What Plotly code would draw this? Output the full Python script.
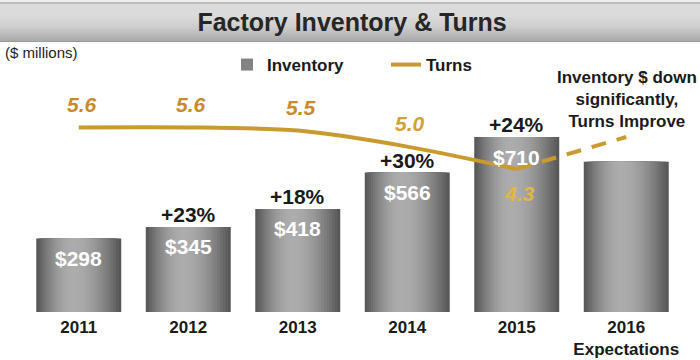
import numpy as np
import plotly.graph_objects as go

# ---------------- data ----------------
years = ["2011", "2012", "2013", "2014", "2015", "2016"]
tick_labels = ["2011", "2012", "2013", "2014", "2015", "2016<br>Expectations"]
inventory = [298, 345, 418, 566, 710, 610]
inventory_labels = ["$298", "$345", "$418", "$566", "$710", ""]
growth_labels = ["", "+23%", "+18%", "+30%", "+24%", ""]

turns_years = ["2011", "2012", "2013", "2014", "2015"]
turns = [5.6, 5.6, 5.5, 5.0, 4.3]
turns_labels = ["5.6", "5.6", "5.5", "5.0", "4.3"]
turns_label_colors = ["#C98A2C", "#C98A2C", "#C98A2C", "#D3A034", "#E2B646"]

turns_proj_years = ["2015", "2016"]
turns_proj = [4.3, 5.3]

FONT = "Arial, Liberation Sans, sans-serif"
LINE_COLOR = "#C99A30"

fig = go.Figure()

# ---------------- bars (layered to fake a cylinder gradient) ----------------
N = 18
half = 0.388
peak_pos = -0.05
edge_c, peak_c = 84, 172
for k in range(N):
    t = k / N
    left = -half + t * (peak_pos + half)
    right = half - t * (half - peak_pos)
    s = (k + 0.5) / N
    b = int(round(edge_c + (peak_c - edge_c) * np.sin(s * np.pi / 2)))
    col = f"rgb({b},{b},{b})"
    fig.add_trace(go.Bar(
        x=years, y=inventory,
        offset=left, width=right - left,
        marker=dict(color=col, line=dict(width=0)),
        name="Inventory",
        showlegend=(k == 6),
        hoverinfo="skip",
        yaxis="y",
    ))

# ---------------- turns line ----------------
fig.add_trace(go.Scatter(
    x=turns_years, y=turns, mode="lines", name="Turns",
    line=dict(color=LINE_COLOR, width=4, shape="spline", smoothing=0.8),
    yaxis="y2", hoverinfo="skip",
))
fig.add_trace(go.Scatter(
    x=turns_proj_years, y=turns_proj, mode="lines", name="Turns (proj)",
    line=dict(color=LINE_COLOR, width=4, dash="15px,11px"),
    yaxis="y2", showlegend=False, hoverinfo="skip",
))

annotations = []
# bar value labels (category axis -> use category index)
for i, (v, lab) in enumerate(zip(inventory, inventory_labels)):
    if lab:
        annotations.append(dict(
            x=i, y=v, xref="x", yref="y", text=f"<b>{lab}</b>", showarrow=False,
            yanchor="middle", yshift=-20,
            font=dict(family=FONT, size=21, color="white"),
        ))
# growth labels
for i, (v, lab) in enumerate(zip(inventory, growth_labels)):
    if lab:
        annotations.append(dict(
            x=i, y=v, xref="x", yref="y", text=f"<b>{lab}</b>", showarrow=False,
            yanchor="bottom", yshift=-1,
            font=dict(family=FONT, size=21, color="#1a1a1a"),
        ))
# turns labels
for i, (v, lab, c) in enumerate(zip(turns, turns_labels, turns_label_colors)):
    below = (i == len(turns) - 1)
    annotations.append(dict(
        x=i, y=v, xref="x", yref="y2", text=f"<b><i>{lab}</i></b>", showarrow=False,
        yanchor="middle", yshift=(-24 if below else 23), xshift=3,
        font=dict(family=FONT, size=21, color=c),
    ))
# side note
annotations.append(dict(
    x=len(years) - 1, xref="x", y=(312 - 99) / 262, yref="paper",
    text="<b>Inventory $ down<br>significantly,<br>Turns Improve</b>",
    showarrow=False, align="center", yanchor="middle", xshift=1,
    font=dict(family=FONT, size=17, color="#1a1a1a"),
))
# units
annotations.append(dict(
    x=(3 - 24) / 657, xref="paper", y=(312 - 53) / 262, yref="paper",
    text="($ millions)", showarrow=False, xanchor="left", yanchor="middle",
    font=dict(family=FONT, size=15, color="#222222"),
))

# ---------------- header band (stacked rects for gradient) ----------------
shapes = []
band = [(0, 2, "#eeeeee"), (2, 4, "#bcbcbc")]
stops = [(4, 218), (14, 220), (26, 206), (41, 168)]
for y in range(4, 41):
    g = 168
    for (a, ca), (bb, cb) in zip(stops[:-1], stops[1:]):
        if a <= y < bb:
            g = int(round(ca + (cb - ca) * (y - a) / (bb - a)))
            break
    band.append((y, y + 1, f"rgb({g},{g},{g})"))
band.append((41, 42, "#9a9a9a"))
for y0, y1, c in band:
    shapes.append(dict(
        type="rect", xref="paper", yref="paper",
        x0=-1, x1=2, y0=(312 - y1) / 262, y1=(312 - y0) / 262,
        fillcolor=c, line=dict(width=0), layer="below",
    ))

fig.update_layout(
    width=700, height=360,
    margin=dict(l=24, r=19, t=50, b=48, autoexpand=False),
    paper_bgcolor="white", plot_bgcolor="white",
    barmode="overlay",
    title=dict(
        text="<b>Factory Inventory & Turns</b>", x=0.503, xref="container",
        y=1 - 22.5 / 360, yref="container", xanchor="center", yanchor="middle",
        font=dict(family=FONT, size=25, color="#262626"),
    ),
    xaxis=dict(
        type="category", range=[-0.5, 5.5],
        tickmode="array", tickvals=years, ticktext=tick_labels,
        tickfont=dict(family=FONT, size=17, color="#1a1a1a", weight="bold"),
        showgrid=False, zeroline=False, showline=False, ticks="",
        ticklabelstandoff=3,
    ),
    yaxis=dict(range=[0, 1063], visible=False, fixedrange=True),
    yaxis2=dict(range=[-0.169, 8.019], overlaying="y", visible=False),
    legend=dict(
        orientation="h", xref="container", yref="container",
        x=227 / 700, y=1 - 65 / 360, xanchor="left", yanchor="middle",
        font=dict(family=FONT, size=17, color="#1a1a1a", weight="bold"),
        entrywidth=114, entrywidthmode="pixels",
        bgcolor="rgba(0,0,0,0)",
    ),
    annotations=annotations,
    shapes=shapes,
    showlegend=True,
)

fig.write_html(
    "out.html",
    config={"displayModeBar": False},
    post_script="document.body.style.margin='0';document.body.style.overflow='hidden';",
)
